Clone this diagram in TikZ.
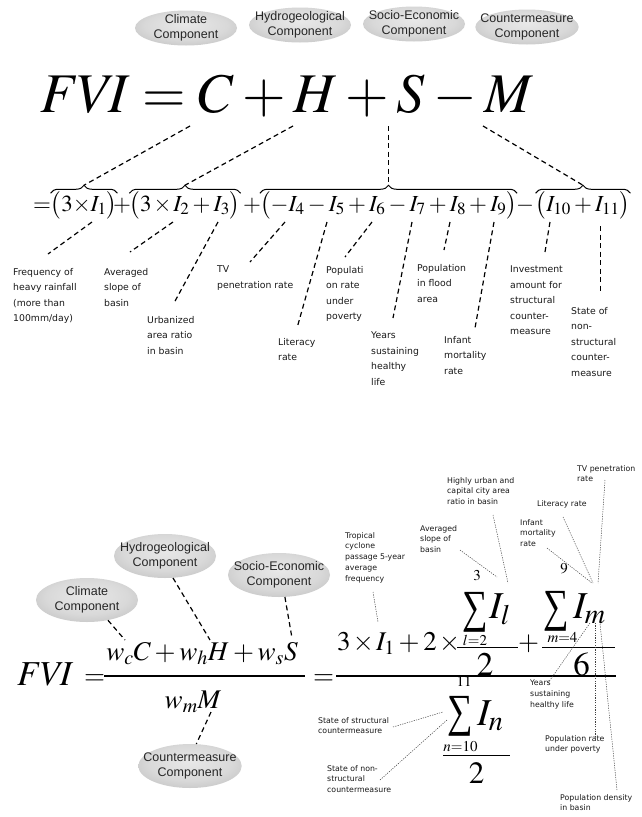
\documentclass[tikz,border=0pt]{standalone}
\usepackage{mathptmx}
\usepackage{fontspec}
\setmainfont{Liberation Serif}
\newfontfamily\compfont{Liberation Sans}
\newfontfamily\notefont{DejaVu Sans}
\usetikzlibrary{shapes.geometric,decorations.pathreplacing}

\pgfdeclareradialshading{ovalshade}{\pgfpoint{0bp}{6bp}}{%
  color(0bp)=(black!9); color(20bp)=(black!15); color(38bp)=(black!27); color(50bp)=(black!36)}

\newcommand\tms{\mkern1.5mu{\times}\mkern1.5mu}
\newcommand\sig{\scalebox{0.78}[1]{∑}}

\tikzset{
  comp/.style={ellipse, shading=ovalshade, text=black!85, align=center,
    font=\compfont\fontsize{12.5}{15}\selectfont,
    inner xsep=-10pt, inner ysep=-1pt, minimum width=102pt, minimum height=35pt},
  bigcomp/.style={comp, minimum height=44pt},
  note/.style={font=\notefont\fontsize{9.3}{15.5}\selectfont, align=left,
    anchor=north west, inner sep=0pt, text=black!90},
  tiny/.style={font=\notefont\fontsize{7.8}{10.8}\selectfont, align=left,
    anchor=north west, inner sep=0pt, text=black!90},
  eqn/.style={font=\fontsize{27}{30}\selectfont, inner sep=0pt, anchor=base},
  row/.style={eqn, font=\fontsize{23}{27}\selectfont},
  sigma/.style={font=\fontsize{46}{46}\selectfont, inner sep=0pt},
  bigI/.style={font=\fontsize{38}{40}\selectfont, inner sep=0pt, anchor=base west},
  lim/.style={font=\fontsize{15}{15}\selectfont, inner sep=0pt},
  bar/.style={line width=1.2pt},
  lnk/.style={line width=1.2pt, dash pattern=on 5pt off 3.5pt},
  dotl/.style={line width=0.5pt, dash pattern=on 1.2pt off 1.2pt, black!75},
  brc/.style={decorate, decoration={brace, amplitude=8pt}, line width=1pt},
}

\begin{document}
\begin{tikzpicture}[x=1pt,y=-1pt]
\fill[white] (0,0) rectangle (642,817);
\useasboundingbox (0,0) rectangle (642,817);

% upper panel: components
\node[comp] (clim) at (186,28) {Climate\\Component};
\node[comp] (hydro) at (300,25) {Hydrogeological\\Component};
\node[comp] (socio) at (414,24) {Socio-Economic\\Component};
\node[comp] (count) at (527,27) {Countermeasure\\Component};

% upper panel: formula
\node[eqn, font=\fontsize{56}{60}\selectfont, anchor=base west] (fvi) at (40,112) {$\mathit{FVI}=C+H+S-M$};
\coordinate (aC) at (190,126);
\coordinate (aH) at (293,126);
\coordinate (aS) at (388.5,126);
\coordinate (aM) at (483,126);

\node[row, anchor=base west] (eq0) at (33,211) {$=$};
\node[row] (g1) at (84,211) {$\bigl(3{\times}I_1\bigr)$};
\node[row] (pl1) at (122,211) {$+$};
\node[row] (g2) at (185,211) {$\bigl(3\tms I_2+I_3\bigr)$};
\node[row] (pl2) at (252,211) {$+$};
\node[row] (g3) at (388.5,211) {$\bigl(-I_4-I_5+I_6-I_7+I_8+I_9\bigr)$};
\node[row] (mi1) at (525,211) {$-$};
\node[row] (g4) at (583,211) {$\bigl(I_{10}+I_{11}\bigr)$};

\foreach \g in {g1,g2,g3,g4}{
  \draw[brc] ([yshift=-2pt]\g.north west) -- ([yshift=-2pt]\g.north east);
  \coordinate (t\g) at ([yshift=6pt]\g.north);
}
\draw[lnk] (aC) -- (tg1);
\draw[lnk] (aH) -- (tg2);
\draw[lnk] (aS) -- (tg3);
\draw[lnk] (aM) -- (tg4);

% upper panel: indicators
\node[note] (freq) at (13,268) {Frequency of\\heavy rainfall\\(more than\\100mm/day)};
\node[note] (slope) at (104,268) {Averaged\\slope of\\basin};
\node[note] (urban) at (147,316) {Urbanized\\area ratio\\in basin};
\node[note] (tv) at (217,266) {TV\\penetration rate};
\node[note] (lit) at (278,338) {Literacy\\rate};
\node[note] (pov) at (326,266) {Populati\\on rate\\under\\poverty};
\node[note] (years) at (371,332) {Years\\sustaining\\healthy\\life};
\node[note] (flood) at (417,264) {Population\\in flood\\area};
\node[note] (infant) at (444,336) {Infant\\mortality\\rate};
\node[note] (invest) at (510,266) {Investment\\amount for\\structural\\counter-\\measure};
\node[note] (nonstr) at (571,307) {State of\\non-\\structural\\counter-\\measure};

\coordinate (i1) at (92,222);
\coordinate (i2) at (173,222);
\coordinate (i3) at (218,222);
\coordinate (i4) at (285,222);
\coordinate (i5) at (327,222);
\coordinate (i6) at (372,222);
\coordinate (i7) at (412,222);
\coordinate (i8) at (450,222);
\coordinate (i9) at (494,222);
\coordinate (i10) at (550,222);
\coordinate (i11) at (600.5,226);

\draw[lnk] (i1) -- ([shift={(35,-14)}]freq.north west);
\draw[lnk] (i2) -- ([shift={(26,-16)}]slope.north west);
\draw[lnk] (i3) -- ([shift={(27,-13)}]urban.north west);
\draw[lnk] (i4) -- ([shift={(33,-4)}]tv.north west);
\draw[lnk] (i5) -- ([shift={(19,-10)}]lit.north west);
\draw[lnk] (i6) -- ([shift={(19,-9)}]pov.north west);
\draw[lnk] (i7) -- ([shift={(22,-14)}]years.north west);
\draw[lnk] (i8) -- ([shift={(27,-14)}]flood.north west);
\draw[lnk] (i9) -- ([shift={(31,-8)}]infant.north west);
\draw[lnk] (i10) -- ([shift={(35,-14)}]invest.north west);
\draw[lnk] (i11) -- ([shift={(29.5,-15)}]nonstr.north west);

% lower panel: components
\node[bigcomp] (climb) at (87,600) {Climate\\Component};
\node[bigcomp] (hydrob) at (165,556) {Hydrogeological\\Component};
\node[bigcomp] (sociob) at (279,575) {Socio-Economic\\Component};
\node[bigcomp] (countb) at (190,766) {Countermeasure\\Component};

% lower panel: weighted formula
\node[eqn, font=\fontsize{35}{38}\selectfont, anchor=base west] (fvib) at (17,685) {$\mathit{FVI}$};
\node[eqn, anchor=base west] (eqb1) at (84,684) {$=$};
\node[eqn] (numl) at (202,660) {$w_cC+w_hH+w_sS$};
\draw[bar] (104,676) -- (305,676);
\node[eqn] (denl) at (193,708) {$w_mM$};
\node[eqn, anchor=base west] (eqb2) at (313,684) {$=$};
\draw[bar] (336,676) -- (616,676);

\coordinate (wC) at (125,640);
\coordinate (wH) at (210,640);
\coordinate (wS) at (292,638);
\coordinate (wM) at (211,712);
\draw[lnk] (climb.-44) -- (wC);
\draw[lnk] (hydrob.-70) -- (wH);
\draw[lnk] (sociob.-75) -- (wS);
\draw[lnk] (wM) -- (countb.74);

% lower panel: indicator fraction
\node[eqn, anchor=base west] (rn1) at (337,650) {$3\tms I_1+2\tms$};
\node[sigma] (s1) at (475,612) {\sig};
\node[lim] (u1) at (477,576) {$3$};
\node[lim] (l1) at (475,640) {$l{=}2$};
\node[bigI] (il) at (489,618) {$I_l$};
\draw[line width=1pt] (457,647) -- (518,647);
\node[eqn, font=\fontsize{33}{33}\selectfont] (d1) at (485,675) {$2$};
\node[eqn] (pl3) at (528.5,650) {$+$};
\node[sigma] (s2) at (556,611) {\sig};
\node[lim] (u2) at (564,569) {$9$};
\node[lim] (l2) at (562.5,638) {$m{=}4$};
\node[bigI] (im) at (573,618) {$I_m$};
\draw[line width=1pt] (542,647) -- (615,647);
\node[eqn, font=\fontsize{33}{33}\selectfont] (d2) at (581.5,675) {$6$};
\node[lim] (u3) at (464,681) {$11$};
\node[sigma] (s3) at (460,716) {\sig};
\node[lim] (l3) at (460.5,747) {$n{=}10$};
\node[bigI] (in) at (477,725) {$I_n$};
\draw[line width=1pt] (443,755) -- (510,755);
\node[eqn, font=\fontsize{31}{31}\selectfont] (d3) at (476.5,783) {$2$};

% lower panel: indicator labels
\node[tiny] (tvb) at (577,465) {TV penetration\\rate};
\node[tiny] (urbb) at (447,477) {Highly urban and\\capital city area\\ratio in basin};
\node[tiny] (litb) at (537,500) {Literacy rate};
\node[tiny] (infb) at (520,519) {Infant\\mortality\\rate};
\node[tiny] (slopeb) at (420,525) {Averaged\\slope of\\basin};
\node[tiny] (tropb) at (345,532) {Tropical\\cyclone\\passage 5-year\\average\\frequency};
\node[tiny] (yearsb) at (530,680) {Years\\sustaining\\healthy life};
\node[tiny] (povb) at (545,735) {Population rate\\under poverty};
\node[tiny] (densb) at (560,794) {Population density\\in basin};
\node[tiny] (strb) at (318,717) {State of structural\\countermeasure};
\node[tiny] (nonb) at (327,765) {State of non-\\structural\\countermeasure};

\coordinate (fI1) at (378,622);
\coordinate (fIl1) at (497,577);
\coordinate (fIl2) at (508,583);
\coordinate (fIm1) at (593,583);
\coordinate (fIm2) at (592,583);
\coordinate (fIm3) at (598,583);
\coordinate (fIm4) at (590,623);
\coordinate (fIm5) at (595,623);
\coordinate (fIm6) at (600,623);
\coordinate (fIn1) at (443,712);
\coordinate (fIn2) at (447,720);

\draw[dotl] ([shift={(28,60)}]tropb.north west) -- (fI1);
\draw[dotl] ([shift={(40,25)}]slopeb.north west) -- (fIl1);
\draw[dotl] ([shift={(46,38)}]urbb.north west) -- (fIl2);
\draw[dotl] ([shift={(26,17)}]litb.north west) -- (fIm1);
\draw[dotl] ([shift={(27,29)}]infb.north west) -- (fIm2);
\draw[dotl] ([shift={(28,15)}]tvb.north west) -- (fIm3);
\draw[dotl] ([shift={(18,3)}]yearsb.north west) -- (fIm4);
\draw[dotl] ([shift={(50,2)}]povb.north west) -- (fIm5);
\draw[dotl] ([shift={(57,-4)}]densb.north west) -- (fIm6);
\draw[dotl] ([shift={(75,10)}]strb.north west) -- (fIn1);
\draw[dotl] ([shift={(53,15)}]nonb.north west) -- (fIn2);
\end{tikzpicture}
\end{document}
